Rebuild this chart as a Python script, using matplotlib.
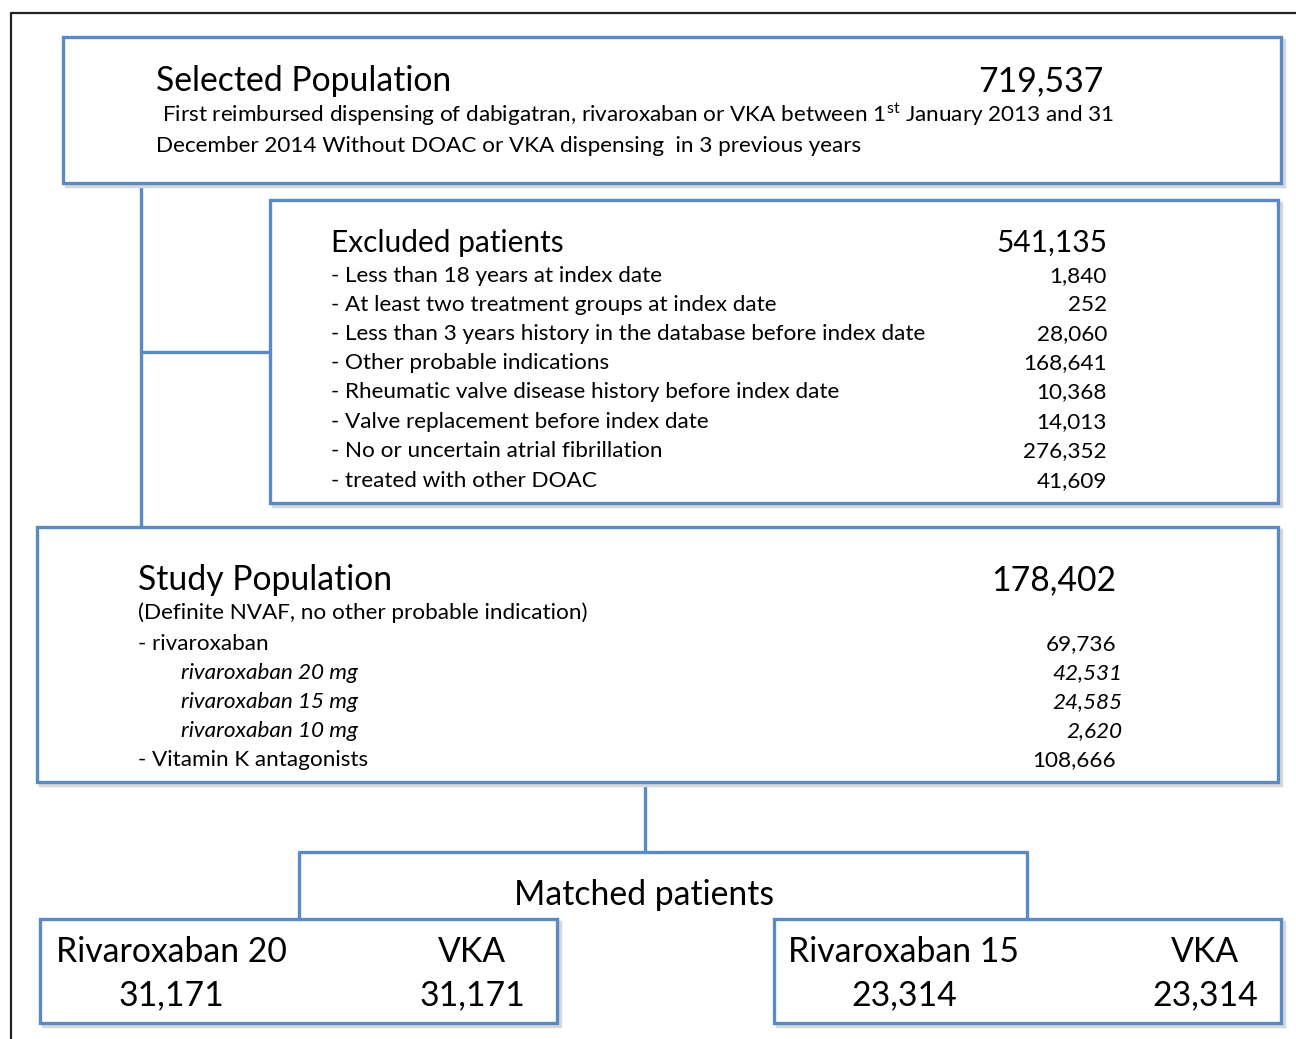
import matplotlib
matplotlib.use("Agg")
import matplotlib.pyplot as plt
from matplotlib.patches import Rectangle

plt.rcParams["font.family"] = ["Lato", "DejaVu Sans"]
plt.rcParams["mathtext.fontset"] = "custom"
plt.rcParams["mathtext.rm"] = "Lato"

BLUE = "#5a8ac6"

# Flowchart content
selected_title = "Selected Population"
selected_n = "719,537"
selected_desc = [
    "First reimbursed dispensing of dabigatran, rivaroxaban or VKA between 1$^{\\mathrm{st}}$ January 2013 and 31",
    "December 2014 Without DOAC or VKA dispensing  in 3 previous years",
]

excluded_title = "Excluded patients"
excluded_n = "541,135"
excluded_labels = [
    "- Less than 18 years at index date",
    "- At least two treatment groups at index date",
    "- Less than 3 years history in the database before index date",
    "- Other probable indications",
    "- Rheumatic valve disease history before index date",
    "- Valve replacement before index date",
    "- No or uncertain atrial fibrillation",
    "- treated with other DOAC",
]
excluded_counts = ["1,840", "252", "28,060", "168,641", "10,368", "14,013", "276,352", "41,609"]

study_title = "Study Population"
study_n = "178,402"
study_sub = "(Definite NVAF, no other probable indication)"
study_labels = ["- rivaroxaban", "rivaroxaban 20 mg", "rivaroxaban 15 mg", "rivaroxaban 10 mg", "- Vitamin K antagonists"]
study_counts = ["69,736", "42,531", "24,585", "2,620", "108,666"]
study_italic = [False, True, True, True, False]

matched_title = "Matched patients"
matched_groups = ["Rivaroxaban 20", "VKA", "Rivaroxaban 15", "VKA"]
matched_counts = ["31,171", "31,171", "23,314", "23,314"]

fig = plt.figure(figsize=(12.96, 10.39), dpi=100)
ax = fig.add_axes([0, 0, 1, 1])
ax.set_xlim(0, 1296)
ax.set_ylim(1039, 0)
ax.axis("off")

# outer frame (top and left only)
ax.plot([11, 11, 1296], [1039, 13, 13], color="#222222", lw=1.6)


def box(x0, y0, x1, y1):
    ax.add_patch(Rectangle((x0 + 3, y0 + 3), x1 - x0, y1 - y0, fill=False,
                           edgecolor="#d8d8d8", lw=2.5, zorder=1))
    ax.add_patch(Rectangle((x0, y0), x1 - x0, y1 - y0, facecolor="white",
                           edgecolor=BLUE, lw=2.4, zorder=2))


def line(xs, ys):
    ax.plot(xs, ys, color=BLUE, lw=2.4, zorder=1, solid_capstyle="butt")


# connectors
line([141, 141], [183, 527])
line([141, 270], [352, 352])
line([645, 645], [782, 852])
line([299, 299, 1027, 1027], [919, 852, 852, 919])

box(63, 37, 1281, 183)
box(270, 200, 1278, 503)
box(37, 527, 1278, 782)
box(40, 919, 557, 1023)
box(774, 919, 1281, 1023)

big = 24.3
mid = 21.5
small = 16.2

# selected population
ax.text(156, 81, selected_title, fontsize=big, va="center", zorder=3)
ax.text(1104, 81, selected_n, fontsize=big, va="center", ha="right", zorder=3)
ax.text(162, 115, selected_desc[0], fontsize=small, va="center", zorder=3)
ax.text(156, 146, selected_desc[1], fontsize=small, va="center", zorder=3)

# excluded
ax.text(331, 243, excluded_title, fontsize=mid, va="center", zorder=3)
ax.text(1107, 243, excluded_n, fontsize=mid, va="center", ha="right", zorder=3)
ex_y = [276, 305, 334, 363, 392, 422, 451, 481]
for y, lab, n in zip(ex_y, excluded_labels, excluded_counts):
    ax.text(331, y, lab, fontsize=small, va="center", zorder=3)
    ax.text(1107, y, n, fontsize=small, va="center", ha="right", zorder=3)

# study population
ax.text(138, 580, study_title, fontsize=big, va="center", zorder=3)
ax.text(1116, 580, study_n, fontsize=big, va="center", ha="right", zorder=3)
ax.text(138, 613, study_sub, fontsize=small, va="center", zorder=3)
st_y = [644, 673, 702, 731, 760]
for y, lab, n, it in zip(st_y, study_labels, study_counts, study_italic):
    style = "italic" if it else "normal"
    ax.text(181 if it else 138, y, lab, fontsize=small, va="center", style=style, zorder=3)
    ax.text(1122 if it else 1116, y, n, fontsize=small, va="center", ha="right", style=style, zorder=3)

# matched
ax.text(644, 895, matched_title, fontsize=big, va="center", ha="center", zorder=3)
grp_x = [171, 472, 904, 1205]
for x, g, n in zip(grp_x, matched_groups, matched_counts):
    ax.text(x, 952, g, fontsize=big, va="center", ha="center", zorder=3)
    ax.text(x, 995, n, fontsize=big, va="center", ha="center", zorder=3)

fig.savefig("out.png", dpi=100, facecolor="white")
